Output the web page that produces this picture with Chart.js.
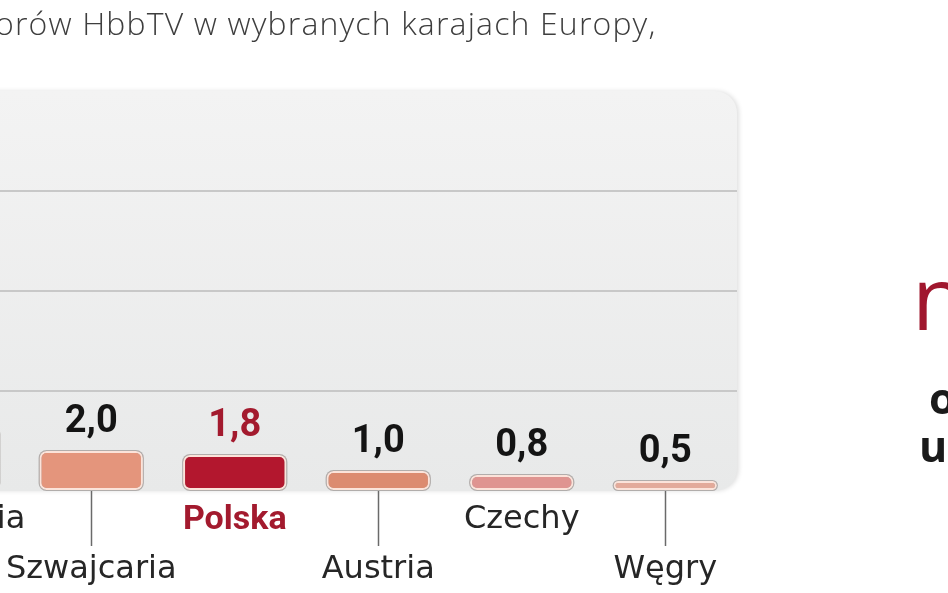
<!DOCTYPE html>
<html><head><meta charset="utf-8">
<script src="https://cdn.jsdelivr.net/npm/chart.js@4.4.1/dist/chart.umd.min.js"></script>
<style>
html,body{margin:0;padding:0;background:#fff;width:948px;height:593px;overflow:hidden;position:relative}
#wrap{position:absolute;left:-200px;top:0;width:1148px;height:593px}
.t{position:absolute;white-space:nowrap;margin:0}
#title{left:-5px;top:5px;font:300 32px 'Open Sans';color:#3e3e3e;line-height:36px;letter-spacing:1.15px}
#bign{left:912px;top:246px;font:400 88px 'Open Sans';color:#a0172e;line-height:100px}
#o1{left:929px;top:373px;font:700 43px 'Open Sans';color:#1a1a1a;line-height:50px}
#o2{left:919px;top:421px;font:700 43px 'Open Sans';color:#1a1a1a;line-height:50px}
</style></head>
<body>
<div id="wrap"><canvas id="c" width="1148" height="593" style="width:1148px;height:593px"></canvas></div>
<div class="t" id="title">orów HbbTV w wybranych karajach Europy,</div>
<div class="t" id="bign">n</div>
<div class="t" id="o1">o</div>
<div class="t" id="o2">us</div>
<script>
const categories = ['Hiszpania', 'Szwajcaria', 'Polska', 'Austria', 'Czechy', 'Węgry'];
const values = [3.2, 2.0, 1.8, 1.0, 0.8, 0.5];
const highlighted = 'Polska';
const yMax = 20;
const yStep = 5;

const barColors = ['#e2947b', '#e4957c', '#b3172e', '#dc8b70', '#df9490', '#e3aa9a'];
const fmt = v => v.toFixed(1).replace('.', ',');

const panelPlugin = {
  id: 'panel',
  beforeDraw(chart) {
    const {ctx, chartArea: a} = chart;
    ctx.save();
    const g = ctx.createLinearGradient(0, a.top, 0, a.bottom);
    g.addColorStop(0, '#f3f3f3');
    g.addColorStop(1, '#e8e9e9');
    ctx.shadowColor = 'rgba(0,0,0,0.12)';
    ctx.shadowBlur = 4;
    ctx.shadowOffsetX = 2;
    ctx.fillStyle = g;
    ctx.beginPath();
    ctx.roundRect(a.left, a.top, a.right - a.left, a.bottom - a.top, 22);
    ctx.fill();
    ctx.restore();
  },
  beforeDatasetsDraw(chart) {
    const {ctx} = chart;
    const meta = chart.getDatasetMeta(0);
    ctx.save();
    ctx.fillStyle = 'rgba(110,100,95,0.45)';
    meta.data.forEach(b => {
      ctx.beginPath();
      ctx.roundRect(b.x - b.width / 2 - 1, b.y - 1, b.width + 2, b.base - b.y + 2, 8);
      ctx.fill();
    });
    ctx.restore();
  },
  afterDatasetsDraw(chart) {
    const {ctx} = chart;
    const meta = chart.getDatasetMeta(0);
    ctx.save();
    ctx.font = 'bold 38px Roboto';
    ctx.textAlign = 'center';
    ctx.textBaseline = 'alphabetic';
    meta.data.forEach((b, i) => {
      ctx.fillStyle = categories[i] === highlighted ? '#a31a2e' : '#141414';
      ctx.fillText(fmt(values[i]), b.x, b.y - 19);
    });
    ctx.restore();
  }
};

new Chart(document.getElementById('c'), {
  type: 'bar',
  data: {
    labels: categories,
    datasets: [{
      data: values,
      backgroundColor: barColors,
      borderColor: '#fbe3da',
      borderWidth: 2,
      borderRadius: 7,
      borderSkipped: false,
      categoryPercentage: 1,
      barPercentage: 0.72
    }]
  },
  options: {
    responsive: false,
    animation: false,
    devicePixelRatio: 1,
    layout: {padding: {left: 76, right: 211, top: 91, bottom: 0}},
    plugins: {legend: {display: false}, tooltip: {enabled: false}},
    scales: {
      x: {
        grid: {
          display: true, offset: false, drawOnChartArea: false, drawTicks: true,
          tickLength: 55, tickWidth: 1.5,
          tickColor: c => (c.index % 2 === 1) ? '#6a6a6a' : 'rgba(0,0,0,0)'
        },
        border: {display: false},
        ticks: {
          padding: -51, autoSkip: false, maxRotation: 0, minRotation: 0,
          color: c => categories[c.index] === highlighted ? '#a31a2e' : '#262626',
          font: c => categories[c.index] === highlighted
            ? {family: 'Roboto', weight: 'bold', size: 34, lineHeight: '50px'}
            : {family: 'DejaVu Sans', size: 32, lineHeight: '50px'},
          callback: (v, i) => i % 2 === 1 ? ['', categories[i]] : categories[i]
        },
        afterFit: s => { s.height = 102; }
      },
      y: {
        min: 0, max: yMax,
        ticks: {display: false, stepSize: yStep},
        border: {display: false},
        grid: {
          drawTicks: false, lineWidth: 2,
          color: c => (c.tick && c.tick.value > 0 && c.tick.value < yMax) ? '#c8c8c8' : 'rgba(0,0,0,0)'
        },
        afterFit: s => { s.width = 0; }
      }
    }
  },
  plugins: [panelPlugin]
});
</script>
</body></html>
